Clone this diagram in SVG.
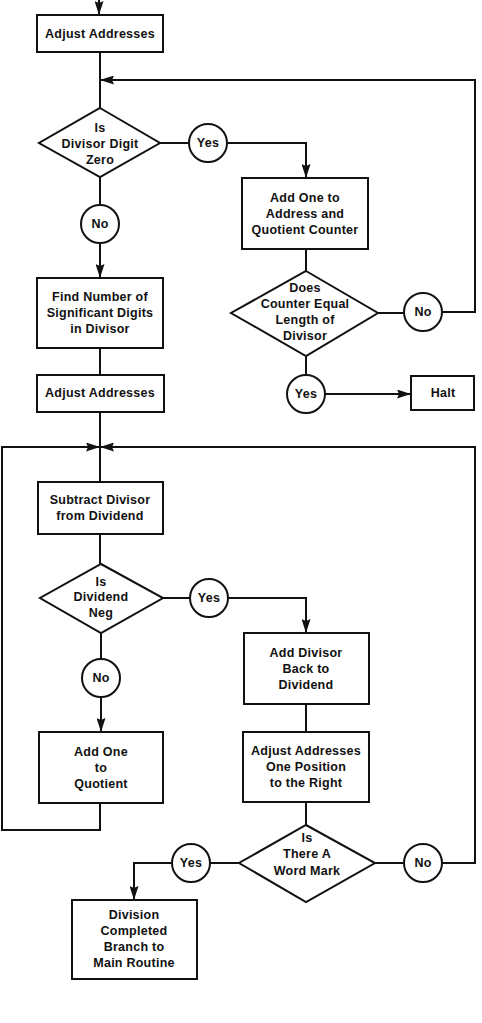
<svg xmlns="http://www.w3.org/2000/svg" width="482" height="1023" viewBox="0 0 482 1023">
<style>
.b{fill:#fff;stroke:#111;stroke-width:2}
.c{fill:none;stroke:#111;stroke-width:2}
.t{font-family:"Liberation Sans",Arial,sans-serif;font-weight:bold;font-size:12.5px;letter-spacing:0.25px;fill:#111;text-anchor:middle}
</style>
<defs>
<marker id="ah" viewBox="0 0 14 9" refX="14" refY="4.5" markerWidth="14" markerHeight="9" markerUnits="userSpaceOnUse" orient="auto">
<path d="M0,0 L14,4.5 L0,9 L2,4.5 z" fill="#111"/>
</marker>
</defs>
<rect width="482" height="1023" fill="#fff"/>
<g id="connectors" class="c">
<path d="M99,0 V15" marker-end="url(#ah)"/>
<path d="M100,52 V108"/>
<path d="M442,312 H475 V80 H100" marker-end="url(#ah)"/>
<path d="M160,143 H189"/>
<path d="M227,143 H306 V178" marker-end="url(#ah)"/>
<path d="M100,177 V205"/>
<path d="M100,243 V278" marker-end="url(#ah)"/>
<path d="M306,249 V271"/>
<path d="M378,313 H404"/>
<path d="M306,356 V375"/>
<path d="M325,394 H411" marker-end="url(#ah)"/>
<path d="M100,348 V375"/>
<path d="M100,412 V482"/>
<path d="M100,803 V830 H2 V447 H100" marker-end="url(#ah)"/>
<path d="M442,863 H475 V447 H100" marker-end="url(#ah)"/>
<path d="M100,534 V564"/>
<path d="M163,598 H190"/>
<path d="M228,598 H306 V633" marker-end="url(#ah)"/>
<path d="M101,633 V659"/>
<path d="M101,697 V732" marker-end="url(#ah)"/>
<path d="M306,704 V732"/>
<path d="M306,802 V825"/>
<path d="M239,863 H210"/>
<path d="M172,863 H134 V900" marker-end="url(#ah)"/>
<path d="M375,863 H404"/>
</g>
<g id="n1"><rect class="b" x="37" y="15" width="126" height="37"/><text class="t" x="100" y="38">Adjust Addresses</text></g>
<g id="d1"><polygon class="b" points="100,108 160,143 100,177 39,143"/><text class="t" x="100" y="132">Is</text><text class="t" x="100" y="148">Divisor Digit</text><text class="t" x="100" y="164">Zero</text></g>
<g id="y1"><circle class="b" cx="208" cy="143" r="19"/><text class="t" x="208" y="147">Yes</text></g>
<g id="no1"><circle class="b" cx="100" cy="224" r="19"/><text class="t" x="100" y="228">No</text></g>
<g id="n2"><rect class="b" x="242" y="178" width="126" height="71"/><text class="t" x="305" y="202">Add One to</text><text class="t" x="305" y="218">Address and</text><text class="t" x="305" y="234">Quotient Counter</text></g>
<g id="d2"><polygon class="b" points="306,271 378,313 306,356 231,313"/><text class="t" x="305" y="292">Does</text><text class="t" x="305" y="308">Counter Equal</text><text class="t" x="305" y="324">Length of</text><text class="t" x="305" y="340">Divisor</text></g>
<g id="no2"><circle class="b" cx="423" cy="312" r="19"/><text class="t" x="423" y="316">No</text></g>
<g id="y2"><circle class="b" cx="306" cy="394" r="19"/><text class="t" x="306" y="398">Yes</text></g>
<g id="halt"><rect class="b" x="411" y="376" width="63" height="34"/><text class="t" x="443" y="397">Halt</text></g>
<g id="n3"><rect class="b" x="37" y="278" width="126" height="70"/><text class="t" x="100" y="301">Find Number of</text><text class="t" x="100" y="317">Significant Digits</text><text class="t" x="100" y="333">in Divisor</text></g>
<g id="n4"><rect class="b" x="37" y="375" width="127" height="37"/><text class="t" x="100" y="397">Adjust Addresses</text></g>
<g id="n5"><rect class="b" x="38" y="482" width="125" height="52"/><text class="t" x="100" y="504">Subtract Divisor</text><text class="t" x="100" y="520">from Dividend</text></g>
<g id="d3"><polygon class="b" points="101,564 163,598 101,633 40,598"/><text class="t" x="101" y="586">Is</text><text class="t" x="101" y="601">Dividend</text><text class="t" x="101" y="617">Neg</text></g>
<g id="y3"><circle class="b" cx="209" cy="598" r="19"/><text class="t" x="209" y="602">Yes</text></g>
<g id="no3"><circle class="b" cx="101" cy="678" r="19"/><text class="t" x="101" y="682">No</text></g>
<g id="n6"><rect class="b" x="244" y="633" width="125" height="71"/><text class="t" x="306" y="657">Add Divisor</text><text class="t" x="306" y="673">Back to</text><text class="t" x="306" y="689">Dividend</text></g>
<g id="n7"><rect class="b" x="39" y="732" width="124" height="71"/><text class="t" x="101" y="756">Add One</text><text class="t" x="101" y="772">to</text><text class="t" x="101" y="788">Quotient</text></g>
<g id="n8"><rect class="b" x="243" y="732" width="126" height="70"/><text class="t" x="306" y="755">Adjust Addresses</text><text class="t" x="306" y="771">One Position</text><text class="t" x="306" y="787">to the Right</text></g>
<g id="d4"><polygon class="b" points="306,825 375,863 306,902 239,863"/><text class="t" x="307" y="842">Is</text><text class="t" x="307" y="858">There A</text><text class="t" x="307" y="875">Word Mark</text></g>
<g id="y4"><circle class="b" cx="191" cy="863" r="19"/><text class="t" x="191" y="867">Yes</text></g>
<g id="no4"><circle class="b" cx="423" cy="863" r="19"/><text class="t" x="423" y="867">No</text></g>
<g id="n9"><rect class="b" x="72" y="900" width="125" height="79"/><text class="t" x="134" y="919">Division</text><text class="t" x="134" y="935">Completed</text><text class="t" x="134" y="951">Branch to</text><text class="t" x="134" y="967">Main Routine</text></g>
</svg>
